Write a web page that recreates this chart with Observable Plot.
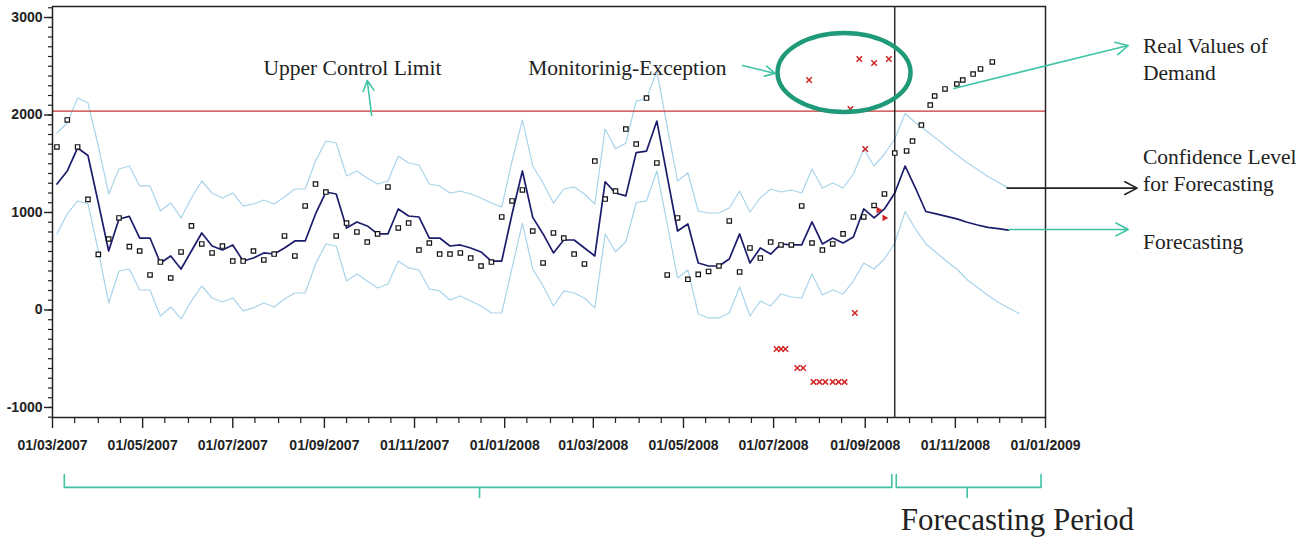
<!DOCTYPE html>
<html>
<head>
<meta charset="utf-8">
<script src="https://cdn.jsdelivr.net/npm/d3@7"></script>
<script src="https://cdn.jsdelivr.net/npm/@observablehq/plot@0.6"></script>
<style>
  body { margin: 0; background: #fff; }
  #chart { width: 1310px; height: 541px; }
</style>
</head>
<body>
<div id="chart"></div>
<script>
// ---------- DATA ----------
const firstWeek = "2007-03-04";            // weekly series start (Sundays)
const forecastStart = "2008-09-21";
const upperControlLimit = 2040;

// Real values of demand, weeks 0..81
const actualDemand = [1672,1949,1672,1135,570,728,944,650,605,359,
  492,328,595,862,677,585,656,502,502,605,
  513,574,759,554,1067,1292,1210,759,892,800,
  697,780,1262,841,892,615,687,574,574,585,
  533,451,492,954,1118,1231,810,482,790,738,
  574,472,1528,1138,1220,1856,1702,2174,1508,359,
  944,315,365,395,451,913,390,636,533,697,
  667,667,1067,687,615,677,780,954,954,1072,
  1190,1610];

// Fitted values, weeks 0..81
const fittedValues = [1292,1426,1662,1585,1100,605,933,960,738,738,
  482,554,420,605,790,656,615,667,502,533,
  585,574,636,708,708,985,1210,1190,840,903,
  862,780,780,1036,964,954,738,738,656,667,
  636,595,502,502,985,1426,950,780,585,718,
  718,636,554,1315,1200,1170,1615,1630,1938,1370,
  810,882,482,451,451,523,780,482,636,574,
  677,667,667,903,677,738,687,749,1036,944,
  1036,1200];

const upperConfidence = [1815,1918,2174,2123,1682,1190,1446,1477,1272,1272,
  1015,1097,944,1149,1323,1200,1149,1200,1067,1087,
  1128,1087,1159,1241,1241,1528,1733,1713,1374,1426,
  1354,1292,1323,1579,1508,1487,1292,1272,1200,1220,
  1190,1149,1097,1056,1528,1949,1477,1303,1097,1241,
  1262,1190,1087,1856,1655,1710,2143,2164,2450,1880,
  1323,1405,1015,995,995,1046,1220,1005,1149,1241,
  1210,1231,1200,1446,1251,1303,1251,1395,1651,1477,
  1600,1754];

const lowerConfidence = [780,985,1118,1090,605,72,400,420,205,205,
  -62,31,-92,92,246,123,82,123,-10,21,
  72,31,113,174,174,472,677,656,297,369,
  297,226,267,503,431,410,215,195,103,144,
  92,41,-31,-31,431,892,420,246,41,195,
  174,123,21,780,595,700,1100,1120,1426,882,
  328,410,-41,-82,-82,-31,236,-62,92,41,
  164,133,123,369,154,205,164,297,482,420,
  523,687];

// Forecast period (weeks 82..)
const forecastValues = [1477,1251,1010,985,960,935,900,872,848,835,820];
const forecastUpper  = [2015,1920,1840,1760,1675,1590,1510,1440,1370,1310,1250];
const forecastLower  = [1010,830,680,590,500,420,310,230,150,80,20,-35];

// Real demand observed in the forecasting period
const futureDemandDates  = ["2008-09-29","2008-10-03","2008-10-09","2008-10-15","2008-10-18","2008-10-25","2008-11-02","2008-11-06","2008-11-13","2008-11-18","2008-11-26"];
const futureDemandValues = [1631,1733,1897,2102,2195,2267,2318,2359,2420,2472,2544];

// Monitoring exceptions (red)
const exceptionDates  = ["2008-07-03","2008-07-06","2008-07-09","2008-07-17","2008-07-21","2008-07-28","2008-08-01","2008-08-05","2008-08-10","2008-08-14","2008-08-18","2008-08-25","2008-09-01","2008-07-25","2008-08-28","2008-09-07","2008-09-17","2008-08-22"];
const exceptionValues = [-400,-400,-400,-595,-595,-738,-738,-738,-738,-738,-738,-31,1651,2359,2574,2533,2574,2061];
const alertDates  = ["2008-09-10","2008-09-14"];
const alertValues = [1025,944];

// Axis ticks
const majorTickDates = ["2007-03-01","2007-05-01","2007-07-01","2007-09-01","2007-11-01","2008-01-01",
  "2008-03-01","2008-05-01","2008-07-01","2008-09-01","2008-11-01","2009-01-01"];
const yTickValues = [-1000, 0, 1000, 2000, 3000];

// Annotation texts inside the chart (centred)
const centerNotes = ["Upper Control Limit", "Monitorinig-Exception"];
const centerNoteDates = ["2007-09-20", "2008-03-24"];
const centerNoteValues = [2500, 2500];

// Annotation texts right of the chart (left aligned)
const sideNotes = ["Real Values of\nDemand", "Confidence Level\nfor Forecasting", "Forecasting"];
const sideNoteDate = "2009-03-08";
const sideNoteValues = [2590, 1446, 713];

const arrowFromDates = ["2007-10-03","2008-06-10","2008-10-31","2008-12-06","2008-12-07"];
const arrowFromValues = [1995, 2508, 2272, 1250, 826];
const arrowToDates = ["2007-09-30","2008-07-02","2009-02-26","2009-03-04","2009-02-26"];
const arrowToValues = [2354, 2426, 2713, 1250, 826];
const arrowIsBlack = [false, false, false, true, false];

const ellipseDates = ["2008-07-04", "2008-10-02"];
const ellipseValues = [2836, 2026];

const periodText = "Forecasting Period";
const periodDate = "2008-09-25";
const periodValue = -2159;

// Bottom braces: [start, middle, end] dates
const braceDates = [["2007-03-09","2007-12-15","2008-09-19"], ["2008-09-22","2008-11-09","2008-12-29"]];
const braceLevels = [-1687, -1820, -1923]; // end tip, bar, middle tip

// ---------- BUILD ----------
const D = s => new Date(s);
const start = D(firstWeek);
const weekDate = i => d3.utcDay.offset(start, 7 * i);

const actualRows = actualDemand.map((v, i) => ({date: weekDate(i), value: v}));
const fittedRows = fittedValues.concat(forecastValues).map((v, i) => ({date: weekDate(i), value: v}));
const upperRows = upperConfidence.concat(forecastUpper).map((v, i) => ({date: weekDate(i), value: v}));
const lowerRows = lowerConfidence.concat(forecastLower).map((v, i) => ({date: weekDate(i), value: v}));
const futureRows = futureDemandDates.map((d, i) => ({date: D(d), value: futureDemandValues[i]}));
const exceptionRows = exceptionDates.map((d, i) => ({date: D(d), value: exceptionValues[i]}));
const alertRows = alertDates.map((d, i) => ({date: D(d), value: alertValues[i]}));

const majorTicks = majorTickDates.map(D);
const majorSet = new Set(majorTicks.map(d => +d));
const months = d3.utcMonth.range(D("2007-03-01"), D("2009-01-02"));
const minorTicks = months.flatMap(m => [m, d3.utcDay.offset(m, 15)])
  .filter(d => !majorSet.has(+d) && d <= D("2009-01-01"));

const centerRows = centerNotes.map((t, i) => ({text: t, date: D(centerNoteDates[i]), value: centerNoteValues[i]}));
const sideRows = sideNotes.map((t, i) => ({text: t, date: D(sideNoteDate), value: sideNoteValues[i]}));
const arrows = arrowFromDates.map((d, i) => ({
  x1: D(d), y1: arrowFromValues[i], x2: D(arrowToDates[i]), y2: arrowToValues[i], black: arrowIsBlack[i]
}));
const braceRows = braceDates.flatMap((b, k) => {
  const [a, m, e] = b.map(D);
  const [tip, bar, mid] = braceLevels;
  return [[a, tip], [a, bar], [m, bar], [m, mid], [m, bar], [e, bar], [e, tip]]
    .map(([date, value]) => ({date, value, k}));
});

const teal = "#3fc4a4";
const serif = "Liberation Serif, Times New Roman, serif";
const noteStyle = {fontFamily: serif, fontSize: 21.5, fontWeight: "normal", fill: "#222", lineAnchor: "middle", lineHeight: 1.27};

const chart = Plot.plot({
  width: 1310,
  height: 541,
  marginLeft: 52,
  marginTop: 6,
  marginRight: 265,
  marginBottom: 124,
  style: {fontFamily: "Liberation Sans, Arial, sans-serif", fontSize: "14px", fontWeight: "bold", color: "#222", background: "#fff"},
  x: {type: "utc", domain: [D("2007-03-01"), D("2009-01-01")]},
  y: {domain: [-1103, 3113]},
  marks: [
    Plot.line(upperRows, {x: "date", y: "value", stroke: "#a9d4ea", strokeWidth: 1.2}),
    Plot.line(lowerRows, {x: "date", y: "value", stroke: "#a9d4ea", strokeWidth: 1.2}),
    Plot.ruleY([upperControlLimit], {stroke: "#cc3333", strokeWidth: 1.4}),
    Plot.line(fittedRows, {x: "date", y: "value", stroke: "#1c1c6c", strokeWidth: 1.7}),
    Plot.ruleX([D(forecastStart)], {stroke: "#111", strokeWidth: 1.3}),
    Plot.dot(actualRows, {x: "date", y: "value", symbol: "square", r: 2.5, stroke: "#111", strokeWidth: 1.2, fill: "#fff"}),
    Plot.dot(futureRows, {x: "date", y: "value", symbol: "square", r: 2.5, stroke: "#111", strokeWidth: 1.2, fill: "#fff"}),
    Plot.dot(exceptionRows, {x: "date", y: "value", symbol: "times", r: 2.6, stroke: "#d02525", strokeWidth: 1.5}),
    Plot.dot(alertRows, {x: "date", y: "value", symbol: "triangle2", rotate: 90, r: 3.2, fill: "#d02525", stroke: "none"}),
    Plot.frame({stroke: "#222", strokeWidth: 1.5}),
    Plot.axisX({ticks: minorTicks, tickSize: 6, text: null, label: null, strokeWidth: 1.2}),
    Plot.axisX({ticks: majorTicks, tickSize: 11, tickPadding: 12, tickFormat: d3.utcFormat("%d/%m/%Y"), label: null, strokeWidth: 1.4}),
    Plot.axisY({ticks: d3.range(-1100, 3101, 100), tickSize: 4, text: null, label: null, strokeWidth: 1.2}),
    Plot.axisY({ticks: yTickValues, tickSize: 8, tickPadding: 2, tickFormat: d => String(d), label: null, strokeWidth: 1.4}),
    // annotations
    Plot.arrow(arrows, {x1: "x1", y1: "y1", x2: "x2", y2: "y2", stroke: d => d.black ? "#222" : teal, strokeWidth: 1.6, headLength: 13, headAngle: 55}),
    Plot.line(braceRows, {x: "date", y: "value", z: "k", stroke: teal, strokeWidth: 1.6}),
    Plot.text(centerRows, {x: "date", y: "value", text: "text", textAnchor: "middle", ...noteStyle}),
    Plot.text(sideRows, {x: "date", y: "value", text: "text", textAnchor: "start", ...noteStyle}),
    Plot.text([periodText], {x: D(periodDate), y: periodValue, text: d => d, textAnchor: "start", lineAnchor: "middle",
      fontFamily: serif, fontSize: 31, fontWeight: "normal", fill: "#222"})
  ]
});

// ellipse around monitoring exceptions, positioned with the chart's own scales
const sx = chart.scale("x"), sy = chart.scale("y");
const ex1 = sx.apply(D(ellipseDates[0])), ex2 = sx.apply(D(ellipseDates[1]));
const ey1 = sy.apply(ellipseValues[0]), ey2 = sy.apply(ellipseValues[1]);
d3.select(chart).append("ellipse")
  .attr("cx", (ex1 + ex2) / 2).attr("cy", (ey1 + ey2) / 2)
  .attr("rx", Math.abs(ex2 - ex1) / 2).attr("ry", Math.abs(ey2 - ey1) / 2)
  .attr("fill", "none").attr("stroke", "#1f9a78").attr("stroke-width", 4.5);

document.getElementById("chart").appendChild(chart);
</script>
</body>
</html>
